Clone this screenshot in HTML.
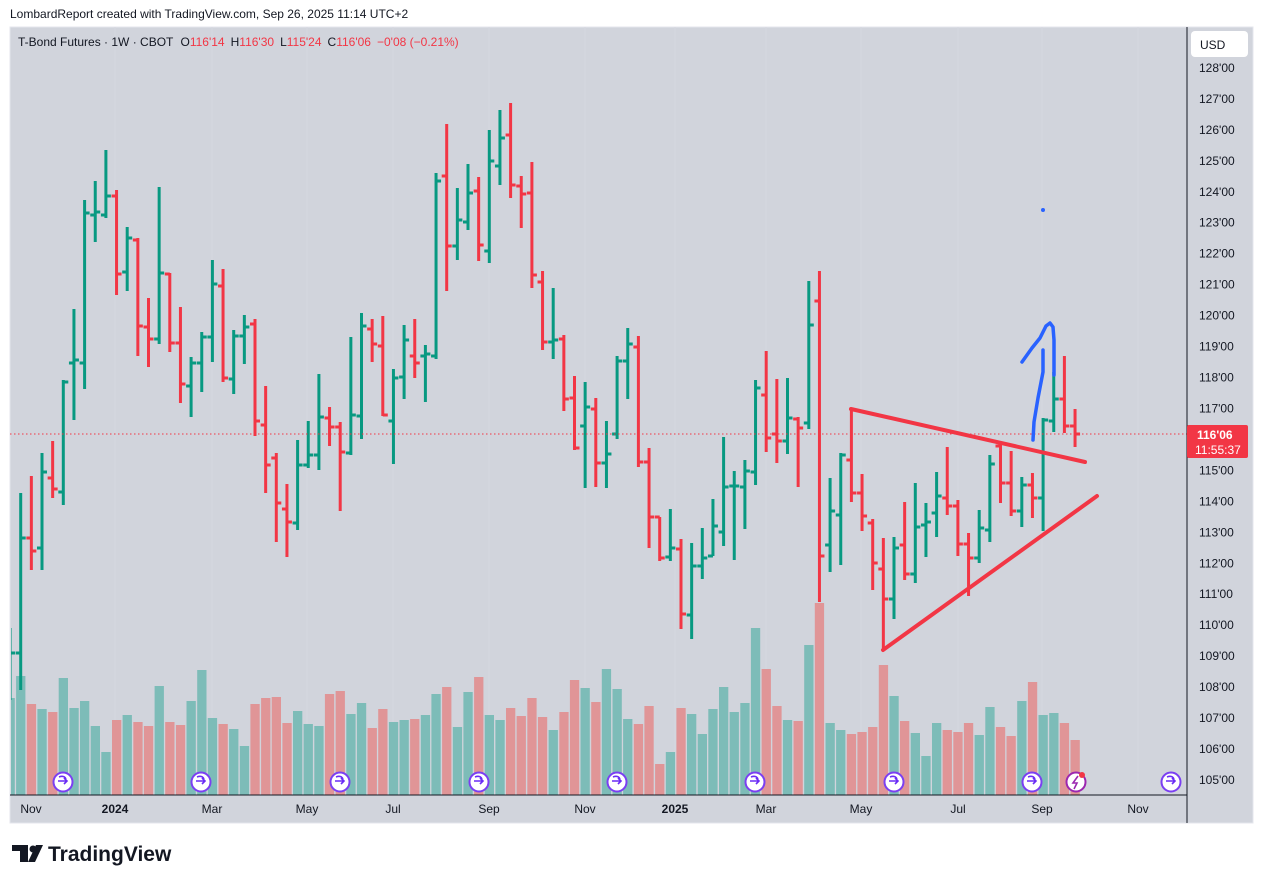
<!DOCTYPE html>
<html><head><meta charset="utf-8"><style>
body{margin:0;background:#fff;width:1263px;height:883px;overflow:hidden;font-family:"Liberation Sans",sans-serif}
</style></head><body>
<svg width="1263" height="883" viewBox="0 0 1263 883" xmlns="http://www.w3.org/2000/svg" font-family="Liberation Sans, sans-serif">
<defs><clipPath id="cp"><rect x="11" y="27" width="1176" height="768"/></clipPath></defs>
<rect x="0" y="0" width="1263" height="883" fill="#fff"/>
<text x="10" y="18" font-size="12" fill="#131722">LombardReport created with TradingView.com, Sep 26, 2025 11:14 UTC+2</text>
<rect x="10" y="27" width="1243" height="796" fill="#d1d4dc" stroke="#e4e6ec" stroke-width="1"/>
<g stroke="#d5d8df" stroke-width="1">
<line x1="115" y1="27" x2="115" y2="795"/><line x1="212" y1="27" x2="212" y2="795"/><line x1="307" y1="27" x2="307" y2="795"/><line x1="393" y1="27" x2="393" y2="795"/><line x1="489" y1="27" x2="489" y2="795"/><line x1="585" y1="27" x2="585" y2="795"/><line x1="675" y1="27" x2="675" y2="795"/><line x1="766" y1="27" x2="766" y2="795"/><line x1="861" y1="27" x2="861" y2="795"/><line x1="958" y1="27" x2="958" y2="795"/><line x1="1042" y1="27" x2="1042" y2="795"/><line x1="1138" y1="27" x2="1138" y2="795"/>
</g>
<text x="18" y="46" font-size="12" fill="#131722">T-Bond Futures · 1W · CBOT <tspan dx="4">O</tspan><tspan fill="#f23645">116'14</tspan><tspan dx="6">H</tspan><tspan fill="#f23645">116'30</tspan><tspan dx="6">L</tspan><tspan fill="#f23645">115'24</tspan><tspan dx="6">C</tspan><tspan fill="#f23645">116'06</tspan><tspan dx="6" fill="#f23645">−0'08 (−0.21%)</tspan></text>

<g clip-path="url(#cp)">
<g id="vol"></g>
<g id="bars"></g>
</g>
<line x1="10" y1="434" x2="1187" y2="434" stroke="#f23645" stroke-width="1" stroke-dasharray="1.5,2.5"/>

<g stroke="#f23645" stroke-width="4" stroke-linecap="round" fill="none">
<line x1="851" y1="409" x2="1085" y2="462"/>
<line x1="883" y1="650" x2="1097" y2="496"/>
</g>
<g stroke="#2962ff" stroke-width="3.5" stroke-linecap="round" stroke-linejoin="round" fill="none">
<path d="M1022,362 L1032,348 L1040,338 L1046,326 L1050,323 L1053,327 L1054,340 L1054,375"/>
<path d="M1043,350 L1043,372 L1038,398 L1034,422 L1033,440"/>
</g>
<circle cx="1043" cy="210" r="2" fill="#2962ff"/>

<g id="ev"></g>

<line x1="10" y1="795" x2="1187" y2="795" stroke="#131722" stroke-width="1"/>
<line x1="1187" y1="27" x2="1187" y2="823" stroke="#131722" stroke-width="1"/>
<rect x="1191" y="31" width="57" height="26" rx="4" fill="#fff"/>
<text x="1200" y="49" font-size="12" fill="#131722">USD</text>
<g font-size="12" fill="#131722" id="pl"></g>
<rect x="1187" y="425" width="61" height="33" rx="2" fill="#f23645"/>
<text x="1197" y="439" font-size="12" font-weight="bold" fill="#fff">116'06</text>
<text x="1195" y="454" font-size="12" fill="#fff">11:55:37</text>
<g font-size="12" fill="#131722" text-anchor="middle">
<text x="31" y="813">Nov</text><text x="115" y="813" font-weight="bold">2024</text><text x="212" y="813">Mar</text><text x="307" y="813">May</text><text x="393" y="813">Jul</text><text x="489" y="813">Sep</text><text x="585" y="813">Nov</text><text x="675" y="813" font-weight="bold">2025</text><text x="766" y="813">Mar</text><text x="861" y="813">May</text><text x="958" y="813">Jul</text><text x="1042" y="813">Sep</text><text x="1138" y="813">Nov</text>
</g>
<g fill="#131722">
<rect x="12" y="845" width="16" height="6"/><rect x="20" y="845" width="8" height="17"/>
<circle cx="33" cy="849" r="3.5"/><polygon points="36,845 43,845 35,862 28,862"/>
</g>
<text x="48" y="861" font-size="21" font-weight="bold" fill="#131722">TradingView</text>
</svg>
<script>
var B=[["G",628,700,660,653],["G",493,690,653,538],["R",476,570,538,551],["G",453,570,548,472],["R",441,498,478,489],["G",380,505,492,382],["G",309,420,363,360],["G",200,389,363,213],["G",181,242,215,212],["G",150,218,215,196],["R",190,295,196,274],["G",227,291,272,238],["R",238,356,240,326],["R",298,367,327,339],["G",187,344,339,273],["R",273,352,274,343],["R",307,403,343,384],["G",357,417,386,363],["G",332,392,363,337],["G",260,362,337,284],["R",269,382,286,378],["G",330,394,379,336],["G",315,364,336,327],["R",319,436,324,421],["R",386,493,425,465],["R",453,542,458,503],["R",484,557,509,522],["G",440,530,523,465],["G",421,468,465,455],["G",374,470,455,417],["R",407,446,418,427],["R",422,511,427,452],["G",337,455,453,415],["G",313,439,416,326],["R",319,362,329,344],["R",316,416,346,415],["G",369,464,421,378],["G",325,399,377,340],["R",319,378,356,363],["G",345,402,356,354],["G",173,359,356,181],["R",124,291,176,246],["G",188,260,246,220],["G",164,230,222,193],["R",177,261,191,245],["G",130,263,251,161],["G",110,185,166,138],["R",103,198,135,185],["R",176,228,186,194],["R",162,288,193,275],["R",271,350,282,342],["G",288,359,342,340],["R",335,411,339,399],["R",376,450,398,448],["G",382,488,426,407],["R",398,487,409,463],["G",421,488,463,454],["G",356,439,434,361],["G",328,399,361,344],["R",336,467,347,462],["R",448,548,462,517],["R",517,561,517,558],["G",509,561,557,548],["R",539,629,549,614],["G",543,639,615,566],["G",528,579,566,558],["G",499,556,556,526],["G",437,546,532,487],["G",471,560,486,486],["G",460,529,487,471],["G",380,485,472,388],["R",351,452,395,438],["R",379,463,434,441],["G",378,454,441,418],["R",417,487,419,428],["G",281,429,423,325],["R",271,602,301,556],["G",478,572,545,511],["G",453,565,515,455],["R",409,502,460,493],["R",474,531,493,516],["R",519,590,523,563],["R",538,650,569,599],["G",537,619,599,548],["R",502,580,545,574],["G",483,583,574,527],["G",503,557,525,522],["G",472,537,513,496],["R",447,515,498,506],["R",500,556,506,544],["R",533,596,544,558],["G",510,563,558,528],["G",455,542,530,464],["R",444,503,446,483],["R",451,516,483,511],["G",477,527,511,485],["R",473,518,485,498],["G",418,531,498,420],["G",372,432,421,399],["R",356,433,399,426],["R",409,447,426,434]];
var V=[[698,"G"],[676,"G"],[704,"R"],[709,"G"],[712,"R"],[678,"G"],[708,"G"],[701,"G"],[726,"G"],[752,"G"],[720,"R"],[715,"G"],[722,"R"],[726,"R"],[686,"G"],[722,"R"],[725,"R"],[701,"G"],[670,"G"],[718,"G"],[724,"R"],[729,"G"],[746,"G"],[704,"R"],[698,"R"],[697,"R"],[723,"R"],[711,"G"],[724,"G"],[726,"G"],[694,"R"],[691,"R"],[714,"G"],[703,"G"],[728,"R"],[709,"R"],[722,"G"],[720,"G"],[719,"R"],[715,"G"],[694,"G"],[687,"R"],[727,"G"],[692,"G"],[677,"R"],[715,"G"],[720,"G"],[708,"R"],[716,"R"],[698,"R"],[717,"R"],[730,"G"],[712,"R"],[680,"R"],[688,"G"],[702,"R"],[669,"G"],[689,"G"],[719,"G"],[724,"R"],[706,"R"],[764,"R"],[752,"G"],[708,"R"],[714,"G"],[734,"G"],[709,"G"],[687,"G"],[712,"G"],[703,"G"],[628,"G"],[669,"R"],[706,"R"],[720,"G"],[721,"R"],[645,"G"],[603,"R"],[723,"G"],[730,"G"],[734,"R"],[732,"R"],[727,"R"],[665,"R"],[696,"G"],[721,"R"],[733,"G"],[756,"G"],[723,"G"],[730,"R"],[732,"R"],[723,"R"],[735,"G"],[707,"G"],[727,"R"],[736,"R"],[701,"G"],[682,"R"],[715,"G"],[713,"G"],[723,"R"],[740,"R"]];
var ns="http://www.w3.org/2000/svg";
function el(t,a,p){var e=document.createElementNS(ns,t);for(var k in a)e.setAttribute(k,a[k]);p.appendChild(e);return e;}
var vg=document.getElementById("vol"),bg=document.getElementById("bars");
for(var i=0;i<V.length;i++){var x=10.05+i*10.65;el("rect",{x:(x-4.6).toFixed(1),y:V[i][0],width:9.3,height:795-V[i][0],fill:V[i][1]=="G"?"#7dbcb8":"#e09597"},vg);}
for(var i=0;i<B.length;i++){var b=B[i],x=10.05+i*10.65,c=b[0]=="G"?"#089981":"#f23645";
el("path",{d:"M"+x+","+b[1]+"V"+b[2]+"M"+(x-5)+","+b[3]+"H"+x+"M"+x+","+b[4]+"H"+(x+5),stroke:c,"stroke-width":3,fill:"none"},bg);}
var pl=document.getElementById("pl");
for(var p=105;p<=128;p++){var y=780-(p-105)*30.96;var t=el("text",{x:1199,y:(y+4).toFixed(1)},pl);t.textContent=p+"'00";}
var ev=document.getElementById("ev");
[63,201,340,479,617,755,894,1032,1171].forEach(function(x){el("circle",{cx:x,cy:782,r:9.5,fill:"#fff",stroke:"#7b3ff2","stroke-width":2},ev);
el("path",{d:"M"+(x-5)+","+781+" H"+(x+4)+" M"+(x+1)+",778 L"+(x+4)+",781 L"+(x+1)+",784 M"+(x-4)+",777 Q"+(x+1)+",775 "+(x+3)+",779",stroke:"#6a2cf5","stroke-width":1.6,fill:"none"},ev);});
el("circle",{cx:1076,cy:782,r:9.5,fill:"#fff",stroke:"#9c27b0","stroke-width":2},ev);
el("path",{d:"M1078,776 L1073,783 L1077,783 L1074,789",stroke:"#9c27b0","stroke-width":1.6,fill:"none"},ev);
el("circle",{cx:1082,cy:775,r:3,fill:"#f23645"},ev);
</script>
</body></html>
